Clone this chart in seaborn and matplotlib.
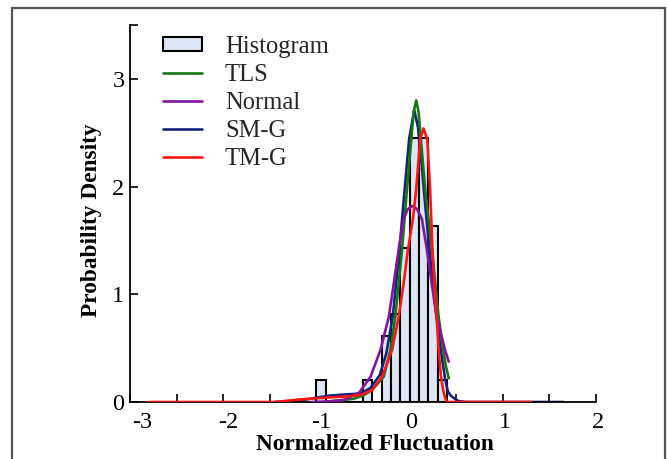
"""
Normalized fluctuation: histogram + fitted densities (TLS / Normal / SM-G / TM-G)
"""
import matplotlib
matplotlib.use('Agg')
import matplotlib.pyplot as plt
import matplotlib.ticker as ticker
import matplotlib.transforms as mtrans
from matplotlib.patches import Patch, Rectangle
from matplotlib.lines import Line2D
import seaborn as sns

# ─── data ──────────────────────────────────────────────────────────────────
bin_edges   = [-1.0, -0.9, -0.8, -0.7, -0.6, -0.5, -0.4, -0.3, -0.2, -0.1,
               0.0, 0.1, 0.2, 0.3, 0.4]
bin_centers = [-0.95, -0.45, -0.25, -0.15, -0.05, 0.05, 0.15, 0.25, 0.35]
bin_density = [0.204, 0.204, 0.612, 0.816, 1.429, 2.449, 2.449, 1.633, 0.204]

tls_x = [-0.90, -0.75, -0.60, -0.50, -0.40, -0.277, -0.205, -0.152, -0.081,
         -0.028, 0.018, 0.045, 0.071, 0.095, 0.121, 0.167, 0.240, 0.310,
         0.360, 0.390, 0.420]
tls_y = [0.005, 0.015, 0.03, 0.06, 0.112, 0.236, 0.485, 0.80, 1.417,
         1.976, 2.44, 2.70, 2.80, 2.70, 2.44, 1.976, 1.417, 0.80,
         0.485, 0.33, 0.22]

normal_x = [-1.05, -0.85, -0.70, -0.543, -0.418, -0.312, -0.223, -0.170,
            -0.117, -0.064, -0.020, 0.030, 0.080, 0.132, 0.185, 0.238,
            0.290, 0.380, 0.420]
normal_y = [0.0, 0.005, 0.02, 0.084, 0.236, 0.485, 0.79, 1.10,
            1.417, 1.70, 1.79, 1.82, 1.79, 1.70, 1.417, 1.10,
            0.79, 0.485, 0.375]

smg_x = [-1.45, -1.20, -1.00, -0.85, -0.70, -0.58, -0.50, -0.42, -0.32,
         -0.25, -0.18, -0.11, -0.053, -0.005, 0.050, 0.090, 0.120, 0.160,
         0.220, 0.290, 0.340, 0.380, 0.410, 0.440, 0.470, 0.520, 0.600, 1.65]
smg_y = [0.0, 0.01, 0.04, 0.06, 0.07, 0.075, 0.09, 0.13, 0.25,
         0.45, 0.80, 1.40, 1.976, 2.44, 2.71, 2.55, 2.30, 1.90,
         1.35, 0.78, 0.45, 0.22, 0.10, 0.06, 0.04, 0.01, 0.0, 0.0]

tmg_x = [-2.80, -1.45, -1.16, -0.90, -0.70, -0.524, -0.40, -0.294, -0.187,
         -0.117, -0.064, -0.020, 0.036, 0.071, 0.114, 0.149, 0.190, 0.220,
         0.245, 0.270, 0.290, 0.310, 0.335, 0.360, 0.380, 0.400, 1.30]
tmg_y = [0.0, 0.0, 0.025, 0.04, 0.05, 0.065, 0.112, 0.236, 0.485,
         0.79, 1.10, 1.40, 1.70, 1.976, 2.44, 2.54, 2.44, 1.98,
         1.42, 1.05, 0.80, 0.50, 0.25, 0.11, 0.04, 0.0, 0.0]

# ─── style ─────────────────────────────────────────────────────────────────
sns.set_theme(style='ticks')
plt.rcParams['font.family'] = ['Liberation Serif', 'DejaVu Serif']
plt.rcParams['axes.unicode_minus'] = False

C_HIST = '#dce6f4'
C_TLS  = '#137813'
C_NORM = '#8214a0'
C_SMG  = '#16237c'
C_TMG  = '#ff1414'
LW     = 1.9
FS_LAB = 16.8
FS_TCK = 17.5
FS_LEG = 17.7

fig = plt.figure(figsize=(6.67, 4.59), dpi=100)
ax = fig.add_axes([130/667, 1 - 402/459, 466/667, 377/459])

sns.histplot(x=bin_centers, weights=bin_density, bins=bin_edges, stat='count',
             color=C_HIST, alpha=1.0, edgecolor='black', linewidth=1.5,
             ax=ax, zorder=1)

sns.lineplot(x=smg_x, y=smg_y, color=C_SMG, lw=LW, estimator=None, ax=ax, zorder=2)
sns.lineplot(x=tls_x, y=tls_y, color=C_TLS, lw=LW, estimator=None, ax=ax, zorder=3)
sns.lineplot(x=normal_x, y=normal_y, color=C_NORM, lw=LW, estimator=None, ax=ax, zorder=4)
sns.lineplot(x=tmg_x, y=tmg_y, color=C_TMG, lw=LW, estimator=None, ax=ax, zorder=5)

ax.set_xlim(-3, 2)
ax.set_ylim(0, 3.5)
ax.xaxis.set_major_locator(ticker.FixedLocator([-3, -2, -1, 0, 1, 2]))
ax.xaxis.set_minor_locator(ticker.MultipleLocator(0.5))
ax.yaxis.set_major_locator(ticker.FixedLocator([0, 1, 2, 3]))
ax.yaxis.set_minor_locator(ticker.FixedLocator([3.5]))
ax.tick_params(which='both', direction='in', length=6, width=1.2, color='black')
ax.tick_params(axis='x', labelsize=FS_TCK, pad=7)
ax.tick_params(axis='y', labelsize=FS_TCK, pad=4)

# nudge x tick labels so the digit (not the minus) sits on the tick
x_shift = {'-3': 12, '-2': 5, '-1': 5}
for lbl in ax.get_xticklabels():
    dx = x_shift.get(lbl.get_text(), 2)
    lbl.set_transform(lbl.get_transform() +
                      mtrans.ScaledTranslation(dx / 100, 0, fig.dpi_scale_trans))
for lbl in ax.get_xticklabels() + ax.get_yticklabels():
    lbl.set_color('black')

sns.despine(ax=ax)
for side in ['left', 'bottom']:
    ax.spines[side].set_linewidth(1.3)
    ax.spines[side].set_color('black')
ax.grid(False)

ax.set_xlabel('Normalized Fluctuation', fontsize=FS_LAB, fontweight='bold', color='black')
ax.set_ylabel('Probability Density', fontsize=FS_LAB, fontweight='bold', color='black')
ax.xaxis.set_label_coords(0.526, -0.084)
ax.yaxis.set_label_coords(-0.06, 0.483)

handles = [
    Patch(facecolor=C_HIST, edgecolor='black', linewidth=1.5, label='Histogram'),
    Line2D([], [], color=C_TLS, lw=LW, label='TLS'),
    Line2D([], [], color=C_NORM, lw=LW, label='Normal'),
    Line2D([], [], color=C_SMG, lw=LW, label='SM-G'),
    Line2D([], [], color=C_TMG, lw=LW, label='TM-G'),
]
fig.legend(handles=handles, loc='upper left', bbox_to_anchor=(163/667, 1 - 36/459),
           frameon=False, fontsize=FS_LEG, handlelength=1.6, handletextpad=0.92,
           labelspacing=0.24, handleheight=0.5, borderpad=0, borderaxespad=0)

# outer frame of the figure
fig.patches.append(Rectangle((12/667, -0.02), 653/667, 1.02 - 8/459,
                             transform=fig.transFigure, fill=False,
                             edgecolor='#555555', linewidth=1.6))

fig.savefig('out.png', dpi=100)
plt.close(fig)
